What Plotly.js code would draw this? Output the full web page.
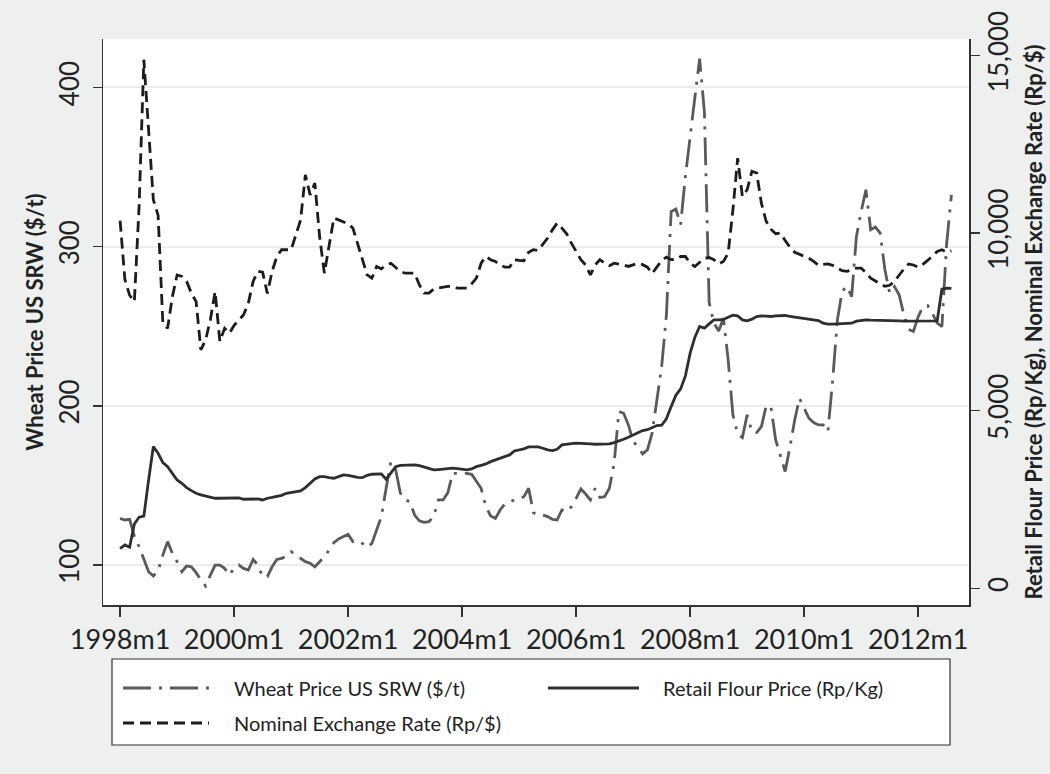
<!DOCTYPE html>
<html>
<head>
<meta charset="utf-8">
<script src="https://cdn.plot.ly/plotly-3.0.1.min.js"></script>
<style>html,body{margin:0;padding:0;background:#edf0ef;}#chart{width:1050px;height:774px;}</style>
</head>
<body>
<div id="chart"></div>
<script>
// ---- Data (monthly, 1998m1 .. 2012m8) ----
var startYear = 1998;
var nMonths = 176;
var months = [];
for (var i = 0; i < nMonths; i++) {
  months.push((startYear + Math.floor(i / 12)) + "m" + ((i % 12) + 1));
}

var tickLabels = ["1998m1","2000m1","2002m1","2004m1","2006m1","2008m1","2010m1","2012m1"];

// Wheat Price US SRW ($/t) - left axis
var wheatPrice = [
129.3,128.3,128.7,118,111.5,104.2,95.8,93.1,96.5,106.3,114.7,107.4,
102.1,95.8,99.4,98.9,95.2,90.6,86.8,93.7,100,100,97.9,93.7,
97.9,100,97.9,96.9,103.5,100,92.7,92.7,98.9,103.5,104.2,105.6,
108.4,106.3,104.2,102.1,101.1,98.9,102.1,105.2,109.4,114.1,116.4,117.9,
119.3,114.7,115.3,113.6,111.1,113.6,122,130.4,148.2,165,160,145.1,
140.9,139.8,131.4,127.8,126.8,127.2,130.4,140.9,140.9,145.5,157.6,157.6,
157.6,157.6,157,152.4,148.2,136.7,130.8,129.3,134.6,138.4,139.8,140.9,
141.7,142.9,148.2,132.9,131.4,131.4,130.4,128.7,128.3,134.6,133.5,136.7,
141.9,147.8,144.6,140.9,148.2,142.4,142.9,148.2,163.9,196.4,195.3,188,
177.5,174.4,169.8,172.3,182.8,203.7,224.6,257,322,323.6,313.8,344.2,
367.2,393.8,418,384.5,265,252,247,255,229,194.3,182.4,180.1,
194.3,183.8,183.2,186.9,199.9,199.5,178.6,168.1,158.7,174,191,204.7,
198.5,192.2,189.5,188,188,183.8,216,254,272,275,268.6,306.4,
322,335.7,310.6,312.3,308.5,285.5,270.7,274.9,269.7,257.1,248,246.7,
256,262.3,263,258,252,249.8,302,332.5
];

// Retail Flour Price (Rp/Kg) - right axis
var flourPrice = [
1120,1220,1155,1810,2000,2030,3050,3990,3800,3540,3425,3240,
3050,2956,2834,2750,2675,2628,2590,2570,2535,2535,2535,2543,
2552,2543,2506,2515,2524,2515,2487,2535,2560,2580,2618,2675,
2693,2712,2740,2834,2956,3080,3143,3143,3115,3098,3143,3191,
3180,3143,3125,3115,3180,3211,3219,3219,3070,3257,3425,3462,
3472,3472,3472,3453,3406,3360,3332,3342,3351,3380,3380,3370,
3342,3332,3360,3425,3462,3500,3566,3614,3670,3716,3754,3866,
3895,3924,3980,3988,3980,3943,3895,3876,3914,4036,4064,4074,
4084,4084,4074,4064,4055,4055,4055,4064,4100,4138,4195,4250,
4317,4383,4440,4463,4520,4580,4590,4770,5115,5435,5613,5980,
6618,7068,7368,7322,7444,7557,7557,7567,7632,7688,7670,7557,
7529,7576,7651,7670,7660,7651,7670,7679,7679,7651,7632,7613,
7604,7594,7576,7538,7463,7435,7435,7444,7444,7444,7463,7520,
7548,7557,7548,7548,7538,7538,7538,7529,7529,7520,7520,7510,
7510,7510,7510,7520,7529,8420,8450,8440
];

// Nominal Exchange Rate (Rp/$) - right axis
var exchangeRate = [
10350,8700,8250,8070,10750,14880,12900,10940,10500,7460,7320,8210,
8820,8780,8640,8310,8070,6710,6990,7560,8350,6950,7320,7180,
7400,7540,7700,8030,8640,8920,8900,8300,8920,9340,9530,9530,
9530,9950,10370,11640,11075,11405,9900,8870,9620,10420,10370,10325,
10260,10140,9715,9240,8820,8730,9060,8990,9100,9150,9040,8920,
8870,8870,8870,8540,8310,8310,8420,8450,8480,8500,8500,8450,
8450,8450,8570,8730,9150,9340,9250,9200,9100,9040,9040,9250,
9230,9220,9460,9530,9510,9670,9860,10090,10280,10140,9980,9715,
9480,9250,9100,8820,9100,9250,9150,9080,9150,9130,9100,9060,
9100,9150,9110,9040,8860,9030,9230,9320,9250,9260,9340,9340,
9150,9060,9180,9290,9310,9250,9130,9200,9430,10650,12110,11030,
11220,11740,11690,10840,10330,10110,9980,10000,9790,9600,9460,9400,
9360,9290,9200,9090,9120,9130,9090,9020,8940,8920,8960,9010,
9010,8890,8730,8640,8570,8500,8530,8640,8820,8990,9130,9100,
9040,9120,9230,9360,9480,9530,9460,9500
];

var seriesNames = ["Wheat Price US SRW ($/t)", "Retail Flour Price (Rp/Kg)", "Nominal Exchange Rate (Rp/$)"];
var leftTicks = [100, 200, 300, 400];
var rightTicks = [0, 5000, 10000, 15000];
var rightTickText = ["0", "5,000", "10,000", "15,000"];

var FONT = "Lato, 'Open Sans', sans-serif";
var wheatStyle = {color: "#5a5a5a", width: 2.8, dash: "28px,8px,3px,8px"};
var flourStyle = {color: "#2e2e2e", width: 2.8, dash: "solid"};
var exchStyle = {color: "#1c1c1c", width: 2.8, dash: "11px,6px"};

var traces = [
  {x: months, y: wheatPrice, name: seriesNames[0], type: "scatter", mode: "lines", line: wheatStyle, yaxis: "y"},
  {x: months, y: flourPrice, name: seriesNames[1], type: "scatter", mode: "lines", line: flourStyle, yaxis: "y2"},
  {x: months, y: exchangeRate, name: seriesNames[2], type: "scatter", mode: "lines", line: exchStyle, yaxis: "y2"}
];

// plot area in px: x 103..969, y 39..605
function px2x(p) { return (p - 103) / 866; }
function px2y(p) { return (605 - p) / 566; }

var shapes = [
  {type: "rect", xref: "paper", yref: "paper", x0: px2x(112), x1: px2x(950), y0: px2y(745), y1: px2y(659),
   line: {color: "#333", width: 1.2}, fillcolor: "#ffffff", layer: "below"},
  {type: "line", xref: "paper", yref: "paper", x0: px2x(123), x1: px2x(211), y0: px2y(688), y1: px2y(688), line: wheatStyle},
  {type: "line", xref: "paper", yref: "paper", x0: px2x(548), x1: px2x(639), y0: px2y(688), y1: px2y(688), line: {color: flourStyle.color, width: 2.8}},
  {type: "line", xref: "paper", yref: "paper", x0: px2x(123), x1: px2x(209), y0: px2y(723), y1: px2y(723), line: exchStyle}
];

var annotations = [
  {text: seriesNames[0], xref: "paper", yref: "paper", x: px2x(232), y: px2y(688), xanchor: "left", yanchor: "middle", showarrow: false, font: {family: FONT, size: 20, color: "#222"}},
  {text: seriesNames[1], xref: "paper", yref: "paper", x: px2x(661), y: px2y(688), xanchor: "left", yanchor: "middle", showarrow: false, font: {family: FONT, size: 20, color: "#222"}},
  {text: seriesNames[2], xref: "paper", yref: "paper", x: px2x(232), y: px2y(723), xanchor: "left", yanchor: "middle", showarrow: false, font: {family: FONT, size: 20, color: "#222"}}
];

var layout = {
  width: 1050, height: 774,
  margin: {l: 103, r: 81, t: 39, b: 169},
  paper_bgcolor: "#edf0ef",
  plot_bgcolor: "#ffffff",
  showlegend: false,
  font: {family: FONT, color: "#222"},
  xaxis: {
    type: "category",
    range: [-3.6, 178.7],
    tickmode: "array", tickvals: tickLabels, ticktext: tickLabels,
    ticks: "outside", ticklen: 10, tickwidth: 1.5, tickcolor: "#333",
    showline: true, linecolor: "#333", linewidth: 1.5,
    showgrid: false, zeroline: false,
    tickfont: {family: FONT, size: 27, color: "#222"}
  },
  yaxis: {
    range: [74.9, 430.4],
    tickmode: "array", tickvals: leftTicks,
    ticks: "outside", ticklen: 9, tickwidth: 1.5, tickcolor: "#333",
    showline: true, linecolor: "#333", linewidth: 1.5,
    showgrid: true, gridcolor: "#ececec", gridwidth: 2,
    zeroline: false, tickangle: -90, ticklabelstandoff: 3,
    tickfont: {family: FONT, size: 26, color: "#222"},
    title: {text: "<b>Wheat Price US SRW ($/t)</b>", font: {family: FONT, size: 22, color: "#222"}, standoff: 3}
  },
  yaxis2: {
    overlaying: "y", side: "right",
    range: [-470, 15462],
    tickmode: "array", tickvals: rightTicks, ticktext: rightTickText,
    ticks: "outside", ticklen: 9, tickwidth: 1.5, tickcolor: "#333",
    showline: true, linecolor: "#333", linewidth: 1.5,
    showgrid: false, zeroline: false, tickangle: -90, ticklabelstandoff: -3,
    tickfont: {family: FONT, size: 26, color: "#222"},
    title: {text: "<b>Retail Flour Price (Rp/Kg), Nominal Exchange Rate (Rp/$)</b>", font: {family: FONT, size: 22, color: "#222"}, standoff: 14}
  },
  shapes: shapes,
  annotations: annotations
};

Plotly.newPlot("chart", traces, layout, {displayModeBar: false, staticPlot: true});
</script>
</body>
</html>
